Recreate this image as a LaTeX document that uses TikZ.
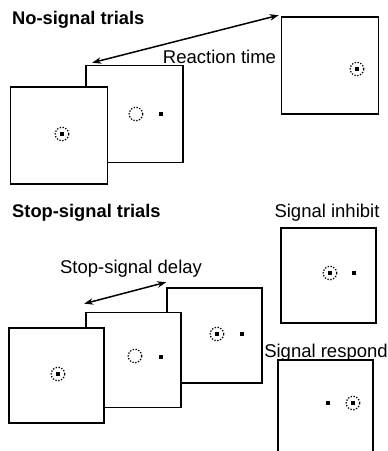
\documentclass[tikz,border=0pt]{standalone}
\usepackage{fontspec}
\setmainfont{Liberation Sans}
\usepackage{tikz}
\usetikzlibrary{calc,positioning,arrows}
\usetikzlibrary{arrows.meta}
\tikzset{
	>={Stealth[length=9pt,width=6.5pt]},
	screen/.style={draw, line width=1.6pt, fill=white, inner sep=0pt, minimum size=97pt},
	small screen/.style={screen, minimum size=95pt},
	fix/.style={draw, dash pattern=on 1.3pt off 1.6pt, line width=1.3pt, circle, inner sep=0pt, minimum size=13.5pt},
	spot/.style={fill=black, inner sep=0pt, minimum size=3.6pt},
	label/.style={font=\fontsize{18.5}{20}\selectfont, inner sep=0pt},
	heading/.style={label, font=\fontsize{18.3}{20}\selectfont\bfseries, anchor=west},
	span/.style={<->, line width=1.5pt},
}

\begin{document}
\begin{tikzpicture}[x=1pt, y=-1pt]
        \useasboundingbox (0,0) rectangle (388,451);
        \clip (0,0) rectangle (388,451);
        % no-signal trials
        \node[heading] (nstitle) at (12,20) {No-signal trials};
        \node[screen] (ns3) at (330,65.5) {};
        \node[screen] (ns2) at (134.5,114) {};
        \node[screen] (ns1) at (59,135.5) {};
        \node[fix] (ns1fix) at (62,134) {};
        \node[spot] at (ns1fix) {};
        \node[fix] (ns2fix) at (136,114) {};
        \node[spot] (ns2tgt) at (161,114) {};
        \node[fix] (ns3fix) at (357,69) {};
        \node[spot] at (ns3fix) {};
        \draw[span] ([xshift=7pt,yshift=2pt]ns2.north west) -- ([xshift=-2pt,yshift=1pt]ns3.north west);
        \node[label] (rt) at (219.5,57) {Reaction time};
        % stop-signal trials
        \node[heading] (sstitle) at (12,213) {Stop-signal trials};
        \node[label] (delay) at (131,269) {Stop-signal delay};
        \node[small screen] (ss3) at (214.5,335.5) {};
        \node[small screen] (ss2) at (133.5,360) {};
        \node[small screen] (ss1) at (56.5,375.5) {};
        \node[fix] (ss1fix) at (58,374) {};
        \node[spot] at (ss1fix) {};
        \node[fix] (ss2fix) at (135,356) {};
        \node[spot] (ss2tgt) at (161,357) {};
        \node[fix] (ss3fix) at (217,334) {};
        \node[spot] at (ss3fix) {};
        \node[spot] (ss3tgt) at (242,334) {};
        \draw[span] ([xshift=-1pt,yshift=8pt]ss2.north west) -- ([yshift=5pt]ss3.north west);
        % outcomes
        \node[label] (inhtitle) at (327,213) {Signal inhibit};
        \node[small screen] (inh) at (328.5,275.5) {};
        \node[fix] (inhfix) at (330,273) {};
        \node[spot] at (inhfix) {};
        \node[spot] (inhtgt) at (354,273) {};
        \node[label] (resptitle) at (326,353) {Signal respond};
        \node[small screen] (resp) at (325.5,407.5) {};
        \node[spot] (resptgt) at (328,403) {};
        \node[fix] (respfix) at (353,403) {};
        \node[spot] at (respfix) {};
    \end{tikzpicture}
\end{document}
